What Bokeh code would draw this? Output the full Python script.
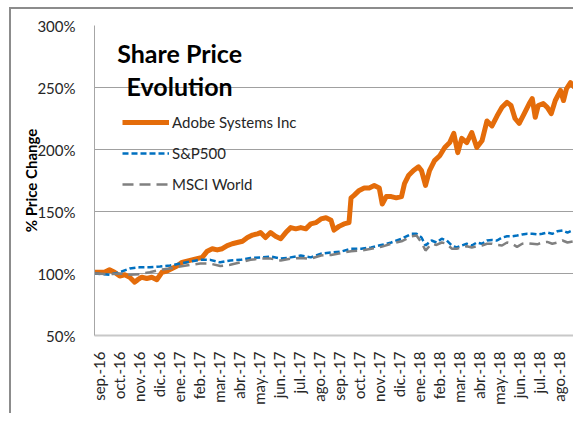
import math
from bokeh.plotting import figure
from bokeh.models import (FixedTicker, PrintfTickFormatter, Legend, LegendItem, Label, Range1d)
from bokeh.embed import file_html
from bokeh.resources import INLINE

# x positions in months since start of Sep 2016 (0 = sep.-16)
month_labels = ["sep.-16", "oct.-16", "nov.-16", "dic.-16", "ene.-17", "feb.-17", "mar.-17",
                "abr.-17", "may.-17", "jun.-17", "jul.-17", "ago.-17", "sep.-17", "oct.-17",
                "nov.-17", "dic.-17", "ene.-18", "feb.-18", "mar.-18", "abr.-18", "may.-18",
                "jun.-18", "jul.-18", "ago.-18"]

adobe_t = [-0.20, 0.05, 0.30, 0.55, 0.80, 1.06, 1.31, 1.56, 1.81, 1.96, 2.16, 2.41, 2.66, 2.91,
           3.17, 3.42, 3.67, 3.92, 4.17, 4.42, 4.67, 4.92, 5.18, 5.43, 5.68, 5.93, 6.18, 6.43,
           6.68, 6.93, 7.19, 7.44, 7.69, 7.94, 8.09, 8.34, 8.59, 8.84, 9.10, 9.35, 9.60, 9.85,
           10.10, 10.35, 10.60, 10.85, 11.11, 11.36, 11.61, 11.76, 12.01, 12.26, 12.51, 12.61,
           12.76, 13.02, 13.27, 13.52, 13.77, 14.02, 14.17, 14.37, 14.62, 14.87, 15.13, 15.28,
           15.48, 15.73, 15.98, 16.13, 16.33, 16.53, 16.78, 17.04, 17.29, 17.54, 17.74, 17.94,
           18.14, 18.39, 18.64, 18.89, 19.15, 19.40, 19.65, 19.90, 20.15, 20.40, 20.60, 20.80,
           21.01, 21.26, 21.51, 21.66, 21.81, 21.96, 22.21, 22.41, 22.61, 22.81, 23.07, 23.22,
           23.37, 23.57, 23.77]
adobe = [101, 101, 101, 103, 101, 98, 99, 97, 93, 95, 97, 96, 97, 95,
         101, 102, 104, 106, 109, 110, 111, 112, 113, 118, 120, 119, 120, 122.5,
         124, 125, 126, 129, 131, 132, 133, 129, 133, 130, 128, 133, 137, 136,
         137, 136, 140, 141, 144, 145, 143, 135, 138, 140, 141, 161,
         163, 167, 169, 169, 171, 169, 156, 162, 162, 161, 162, 172.5,
         179, 183, 186, 183, 171, 183, 191, 195, 201.6, 205.6, 213, 197.5,
         209, 205.6, 213.7, 201.6, 207, 223, 219, 227, 234, 238, 235.5, 225,
         221, 229, 237, 241, 226, 235.5, 237, 234, 229, 239.5, 247.6, 239.5,
         249, 254, 250]

index_t = [-0.20, 0.55, 1.06, 1.56, 2.06, 2.56, 3.07, 3.57, 4.07, 4.57, 5.08, 5.58, 6.08, 6.58,
           7.09, 7.59, 8.09, 8.59, 9.10, 9.60, 10.10, 10.60, 11.11, 11.61, 12.11, 12.61, 13.12,
           13.62, 14.12, 14.62, 15.13, 15.63, 15.88, 16.13, 16.33, 16.63, 16.88, 17.14, 17.39,
           17.64, 17.89, 18.14, 18.39, 18.64, 18.89, 19.15, 19.40, 19.65, 19.90, 20.15, 20.40,
           20.65, 20.90, 21.16, 21.41, 21.66, 21.91, 22.16, 22.41, 22.66, 22.91, 23.17, 23.42, 23.77]
sp500 = [100, 99, 101, 104, 105, 105, 105.6, 106.5, 108, 109.7, 111, 111, 109, 110.5,
         111, 112.5, 113, 113.7, 112, 113, 114.5, 113, 116, 117, 117.7, 120, 120,
         121, 123, 125, 128, 132, 132, 129, 122.6, 126.6, 125, 128, 126.6,
         122.6, 121, 122.6, 124, 122.6, 125, 124, 126.6, 127, 126.6, 129, 130,
         130, 130.6, 131.5, 132, 132, 131.5, 132, 133, 132, 134, 134.7, 133, 135.5]
msci = [100, 99.5, 100, 99, 99.5, 101, 103, 104, 105.6, 107, 108, 108, 106, 107,
        109, 111, 112, 112, 110.5, 112, 112.5, 112, 114.5, 115, 116.5, 118, 118.5,
        120, 121.5, 124, 126, 130, 130.6, 125, 118.5, 124, 123, 125, 124,
        120, 120, 121, 122, 121, 122, 122.6, 124, 124, 123, 122.6, 125,
        124, 121.5, 124, 124.5, 124, 123.5, 125, 125.5, 124, 125, 126.6, 125, 126]

y_ticks = [50, 100, 150, 200, 250, 300]

FONT = "Lato"

p = figure(width=564, height=406, output_backend="svg", toolbar_location=None,
           x_range=Range1d(-0.20, 23.82), y_range=Range1d(50, 300),
           min_border_left=0, min_border_top=16, min_border_right=8, min_border_bottom=80)
p.styles = {"margin-left": "9px", "margin-top": "7px", "padding-left": "8px",
            "border-left": "2px solid #8c8c8c", "border-top": "2px solid #8c8c8c"}
p.outline_line_color = None
p.background_fill_color = "white"
p.border_fill_color = "white"

r_adobe = p.line(adobe_t, adobe, line_color="#E46C0A", line_width=5, line_join="round")
r_sp = p.line(index_t, sp500, line_color="#0070C0", line_width=2.5, line_dash="6 3")
r_msci = p.line(index_t, msci, line_color="#808080", line_width=2.5, line_dash="11 6")

# axes
p.xaxis.ticker = FixedTicker(ticks=list(range(len(month_labels))))
p.xaxis.major_label_overrides = {i: lab for i, lab in enumerate(month_labels)}
p.xaxis.major_label_orientation = math.pi / 2
p.xaxis.major_tick_line_color = None
p.xaxis.minor_tick_line_color = None
p.xaxis.major_label_standoff = 10
p.xaxis.axis_line_color = "#c8c8c8"
p.xaxis.axis_line_width = 2
p.xaxis.major_label_text_font = FONT
p.xaxis.major_label_text_font_size = "15px"
p.xaxis.major_label_text_color = "#262626"

p.yaxis.ticker = FixedTicker(ticks=y_ticks)
p.yaxis.formatter = PrintfTickFormatter(format="%d%%")
p.yaxis.major_tick_line_color = None
p.yaxis.minor_tick_line_color = None
p.yaxis.major_label_standoff = 13
p.yaxis.axis_line_color = "#a6a6a6"
p.yaxis.axis_line_width = 1
p.yaxis.major_label_text_font = FONT
p.yaxis.major_label_text_font_size = "15px"
p.yaxis.major_label_text_color = "#262626"
p.yaxis.axis_label = "% Price Change"
p.yaxis.axis_label_text_font = FONT
p.yaxis.axis_label_text_font_style = "bold"
p.yaxis.axis_label_text_font_size = "15px"
p.yaxis.axis_label_text_color = "#000000"
p.yaxis.axis_label_standoff = -6

p.xgrid.grid_line_color = None
p.ygrid.ticker = FixedTicker(ticks=y_ticks)
p.ygrid.grid_line_color = "#a0a0a0"
p.ygrid.grid_line_width = 1

# chart title
p.add_layout(Label(x=4.05, y=277.5, text="Share Price", text_align="center",
                   text_baseline="alphabetic", text_font=FONT, text_font_style="bold",
                   text_font_size="25px", text_color="#000000"))
p.add_layout(Label(x=4.05, y=251.6, text="Evolution", text_align="center",
                   text_baseline="alphabetic", text_font=FONT, text_font_style="bold",
                   text_font_size="25px", text_color="#000000"))

legend = Legend(items=[LegendItem(label="Adobe Systems Inc", renderers=[r_adobe]),
                       LegendItem(label="S&P500", renderers=[r_sp]),
                       LegendItem(label="MSCI World", renderers=[r_msci])],
                location=(28, 141), padding=0, margin=0, spacing=11,
                glyph_width=47, glyph_height=20, label_height=20, label_standoff=3,
                label_text_font=FONT, label_text_font_size="15px", label_text_color="#262626",
                border_line_color=None, background_fill_alpha=0)
p.add_layout(legend)

open("out.html", "w").write(file_html(p, INLINE))
